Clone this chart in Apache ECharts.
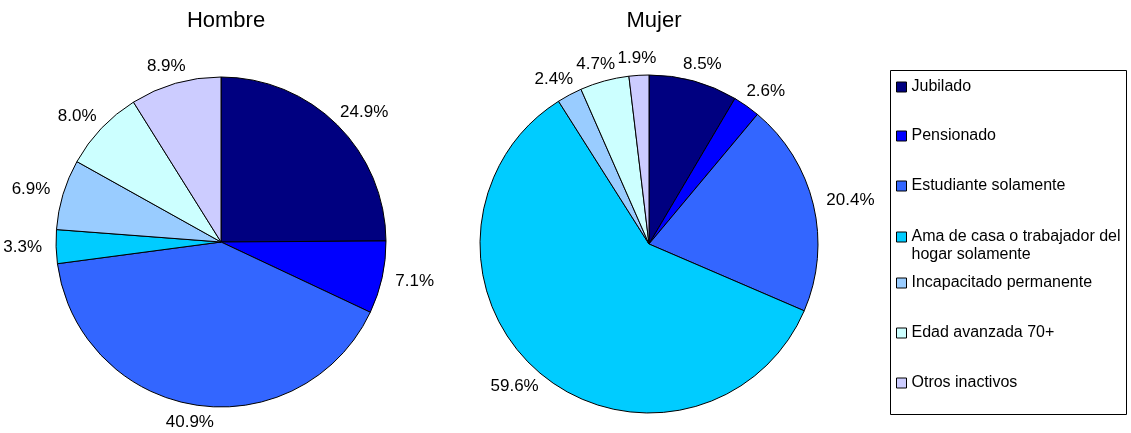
<!DOCTYPE html>
<html>
<head>
<meta charset="utf-8">
<script src="https://cdn.jsdelivr.net/npm/echarts@6/dist/echarts.min.js"></script>
<style>
  html, body { margin: 0; padding: 0; background: #fff; }
  #chart { width: 1131px; height: 433px; }
</style>
</head>
<body>
<div id="chart"></div>
<script>
var categories = ['Jubilado', 'Pensionado', 'Estudiante solamente', 'Ama de casa o trabajador del hogar solamente', 'Incapacitado permanente', 'Edad avanzada 70+', 'Otros inactivos'];
var hombre = [24.9, 7.1, 40.9, 3.3, 6.9, 8.0, 8.9];
var mujer = [8.5, 2.6, 20.4, 59.6, 2.4, 4.7, 1.9];
var colors = ['#000080', '#0000FF', '#3366FF', '#00CCFF', '#99CCFF', '#CCFFFF', '#CCCCFF'];
// legend item centres (y) from the picture
var legendY = [87, 136, 186, 237, 283, 333, 383];

var font = 'Liberation Sans, Arial, sans-serif';
var pies = [
    { name: 'Hombre', values: hombre, center: [221, 242], radius: 165 },
    { name: 'Mujer', values: mujer, center: [649, 244], radius: 169 }
];
var gapX = 14, gapY = 9;

// put each label just outside its slice on the mid angle, centred (like Excel)
function placeLabel(params) {
    var pie = pies[params.seriesIndex];
    var vals = pie.values;
    var total = vals.reduce(function (a, b) { return a + b; }, 0);
    var before = 0;
    for (var i = 0; i < params.dataIndex; i++) before += vals[i];
    var mid = (before + vals[params.dataIndex] / 2) / total * Math.PI * 2;
    var ux = Math.sin(mid), uy = -Math.cos(mid);
    var w = params.labelRect.width, h = params.labelRect.height;
    return {
        x: pie.center[0] + ux * (pie.radius + gapX + w / 2),
        y: pie.center[1] + uy * (pie.radius + gapY + h / 2),
        align: 'center',
        verticalAlign: 'middle',
        hideOverlap: false
    };
}

function pieSeries(pie) {
    return {
        name: pie.name,
        type: 'pie',
        center: pie.center,
        radius: pie.radius,
        startAngle: 90,
        clockwise: true,
        avoidLabelOverlap: false,
        minShowLabelAngle: 0,
        animation: false,
        data: pie.values.map(function (v, i) {
            return { name: categories[i], value: v };
        }),
        itemStyle: {
            borderColor: '#000',
            borderWidth: 1
        },
        label: {
            show: true,
            position: 'outside',
            formatter: function (p) { return p.value.toFixed(1) + '%'; },
            color: '#000',
            fontFamily: font,
            fontSize: 17
        },
        labelLine: { show: false },
        labelLayout: placeLabel,
        emphasis: { disabled: true }
    };
}

var legends = categories.map(function (c, i) {
    var twoLine = i === 3;
    return {
        orient: 'vertical',
        left: 896,
        top: twoLine ? legendY[i] - 27 : legendY[i] - 9,
        data: [c],
        icon: 'rect',
        itemWidth: 10,
        itemHeight: 10,
        itemGap: 0,
        padding: 0,
        selectedMode: false,
        itemStyle: { borderColor: '#000', borderWidth: 1 },
        formatter: function (n) {
            return n === categories[3] ? '\nAma de casa o trabajador del\nhogar solamente' : n;
        },
        textStyle: { fontFamily: font, fontSize: 16, color: '#000', lineHeight: 18 }
    };
});

var chart = echarts.init(document.getElementById('chart'), null, { renderer: 'canvas' });
chart.setOption({
    backgroundColor: '#fff',
    color: colors,
    title: pies.map(function (p) {
        return {
            text: p.name, left: p.center[0], top: 5, textAlign: 'center',
            textStyle: { fontFamily: font, fontSize: 22, fontWeight: 'normal', color: '#000' }
        };
    }),
    legend: legends,
    graphic: [{
        type: 'rect',
        shape: { x: 890.5, y: 70.5, width: 236, height: 344 },
        style: { fill: 'none', stroke: '#000', lineWidth: 1 },
        z: -1
    }],
    series: pies.map(pieSeries)
});
</script>
</body>
</html>
